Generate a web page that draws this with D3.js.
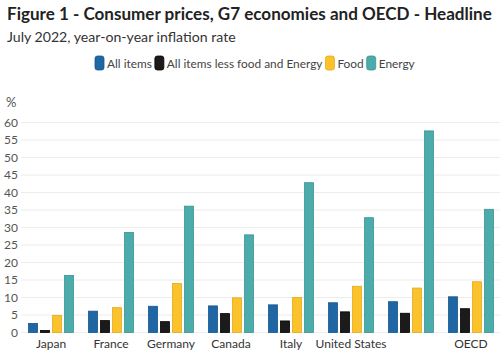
<!DOCTYPE html>
<html><head><meta charset="utf-8">
<script src="https://cdn.jsdelivr.net/npm/d3@7"></script>
<style>body{margin:0;background:#fff}svg{display:block}text{font-family:Lato,"Open Sans",sans-serif}</style>
</head><body><svg id="c" width="504" height="356"></svg>
<script>
const categories = ["Japan","France","Germany","Canada","Italy","United States","United Kingdom","OECD"];
const tickLabels = ["Japan","France","Germany","Canada","Italy","United States","","OECD"];
const seriesNames = ["All items","All items less food and Energy","Food","Energy"];
const allItems   = [2.6, 6.1, 7.5, 7.6, 7.9, 8.5, 8.8, 10.2];
const lessFoodEn = [0.6, 3.4, 3.1, 5.4, 3.3, 5.9, 5.5, 6.8];
const food       = [4.9, 7.1, 14.0, 9.9, 10.0, 13.2, 12.7, 14.5];
const energy     = [16.3, 28.6, 36.1, 27.9, 42.8, 32.8, 57.6, 35.2];
const yTicks = [0,5,10,15,20,25,30,35,40,45,50,55,60];
const colors = ["#1f66a5","#1b1b1b","#fcc22b","#4bacab"];
const strokes = ["#18558c","#000000","#e3ab1c","#3a9493"];

const series = [allItems, lessFoodEn, food, energy];
const svg = d3.select("#c");

function fit(sel, w, base){
  const l = sel.node().getComputedTextLength();
  sel.attr("font-size", base * w / l);
  return sel;
}

const title = svg.append("text").attr("x",7).attr("y",20).attr("font-size",18).attr("font-weight",700).attr("fill","#222")
  .text("Figure 1 - Consumer prices, G7 economies and OECD - Headline");
fit(title, 485, 18);
const sub = svg.append("text").attr("x",7).attr("y",42).attr("font-size",15).attr("fill","#333")
  .text("July 2022, year-on-year inflation rate");
fit(sub, 229, 15);

const x0 = d3.scaleBand().domain(categories).range([21,501]).paddingInner(0.2333).paddingOuter(0.1167);
const x1 = d3.scaleBand().domain(d3.range(4)).range([0,x0.bandwidth()]).paddingInner(0.1667).paddingOuter(0);
const y = d3.scaleLinear().domain([0,60]).range([332.5,122.5]);

const grid = svg.append("g");
yTicks.forEach(t=>{
  grid.append("line").attr("x1",21).attr("x2",500).attr("y1",y(t)).attr("y2",y(t)).attr("stroke","#ececec").attr("stroke-width",1);
});
const yAxis = d3.axisLeft(y).tickValues(yTicks).tickSize(0).tickPadding(0);
const ya = svg.append("g").attr("transform","translate(18,0)").call(yAxis);
ya.select(".domain").remove();
ya.selectAll("text").attr("font-size",12).attr("fill","#555").attr("font-family","Lato");
svg.append("text").attr("x",6).attr("y",107).attr("font-size",13).attr("fill","#555").text("%");

const g = svg.append("g");
categories.forEach((c,i)=>{
  series.forEach((s,k)=>{
    g.append("rect").attr("x",x0(c)+x1(k)+0.5).attr("y",y(s[i])).attr("width",x1.bandwidth()-1)
      .attr("height",y(0)-y(s[i])).attr("fill",colors[k]).attr("stroke",strokes[k]).attr("stroke-width",0.8);
  });
});

const xAxis = d3.axisBottom(x0).tickSize(0).tickPadding(0).tickFormat((d,i)=>tickLabels[i]);
const xa = svg.append("g").attr("transform","translate(0,337)").call(xAxis);
xa.select(".domain").remove();
xa.selectAll("text").attr("font-size",12).attr("fill","#333").attr("font-family","Lato").attr("dy","0.9em");

// legend: sequential layout, centered
const lg = svg.append("g");
const texts = seriesNames.map(n => lg.append("text").attr("y",67.5).attr("font-size",13).attr("fill","#444").text(n));
const textW = texts.map(t => t.node().getComputedTextLength());
const sumT = d3.sum(textW);
const targetText = 320 - 4*12 - 3*3;
const fs = 13 * targetText / sumT;
texts.forEach(t => t.attr("font-size", fs));
const w2 = texts.map(t => t.node().getComputedTextLength());
let cx = 95;
seriesNames.forEach((n,k)=>{
  lg.append("rect").attr("x",cx).attr("y",56).attr("width",9).attr("height",14).attr("rx",2.5)
    .attr("fill",colors[k]).attr("stroke",strokes[k]).attr("stroke-width",0.8);
  texts[k].attr("x",cx+12);
  cx += 12 + w2[k] + 3;
});
</script></body></html>
